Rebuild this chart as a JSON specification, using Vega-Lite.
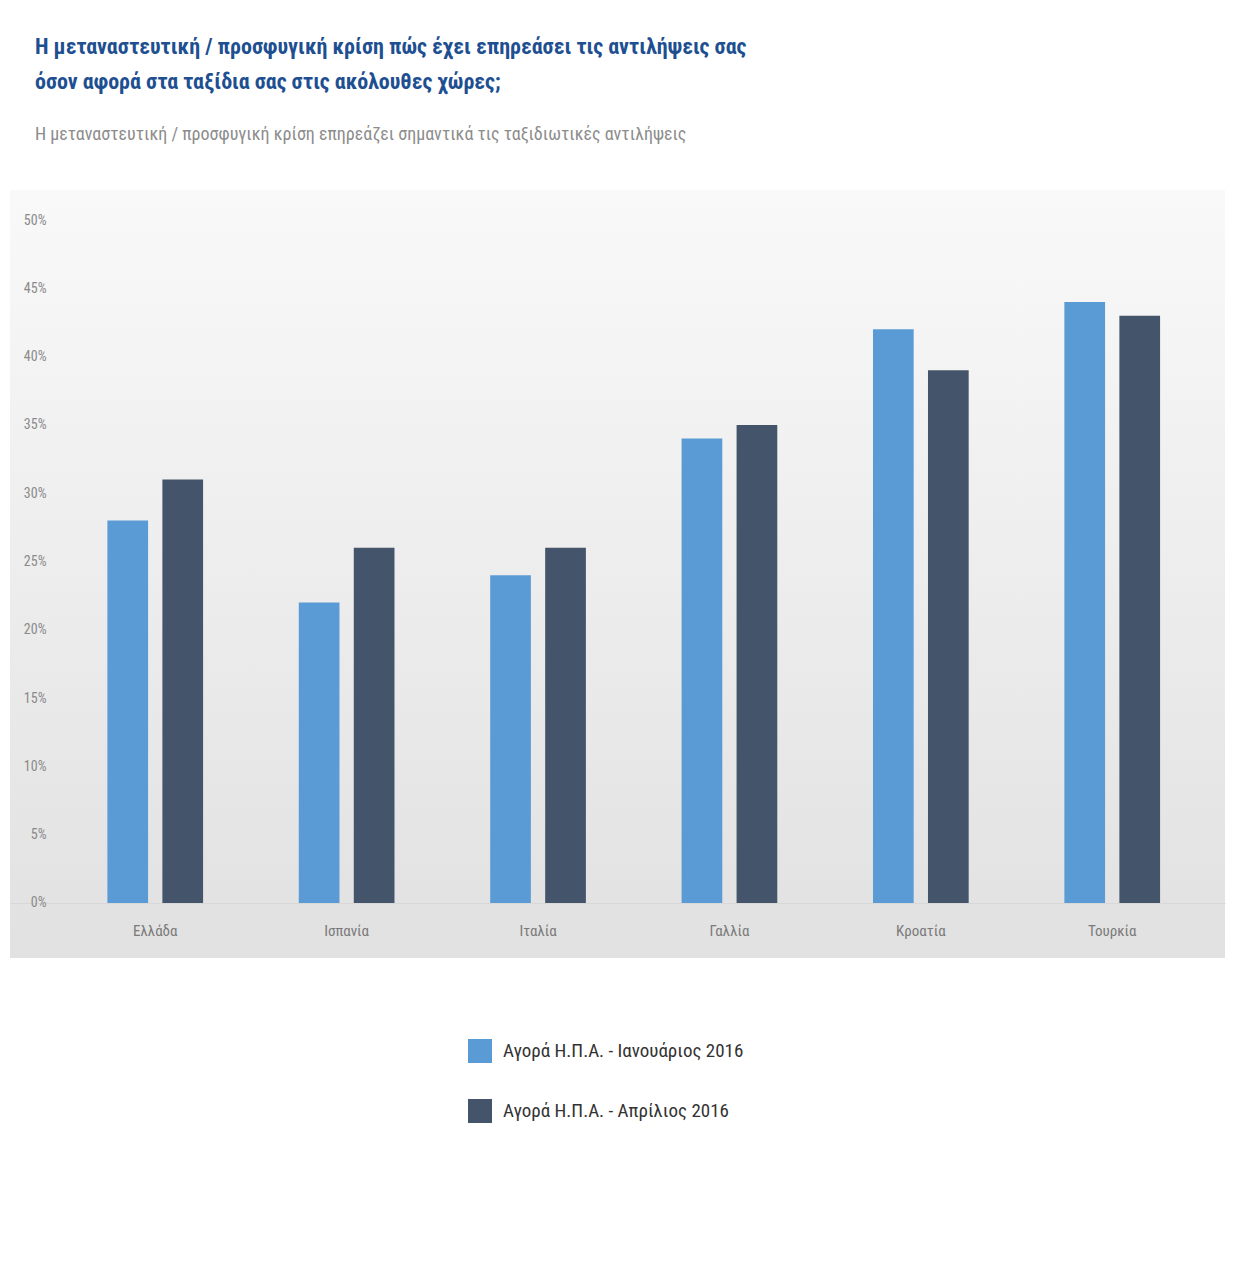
{
  "$schema": "https://vega.github.io/schema/vega-lite/v6.json",
  "width": 1215,
  "height": 768,
  "autosize": {"type": "none"},
  "padding": {"left": 10, "top": 190, "right": 10, "bottom": 306},
  "background": "#ffffff",
  "title": {
    "text": ["\u00a0Η μεταναστευτική / προσφυγική κρίση πώς έχει επηρεάσει τις αντιλήψεις σας", "όσον αφορά στα ταξίδια σας στις ακόλουθες χώρες;"],
    "subtitle": "Η μεταναστευτική / προσφυγική κρίση επηρεάζει σημαντικά τις ταξιδιωτικές αντιλήψεις",
    "anchor": "start",
    "frame": "group",
    "offset": 45,
    "dx": 25,
    "font": "Roboto Condensed, Roboto, sans-serif",
    "fontSize": 22,
    "fontWeight": "bold",
    "color": "#1d4f91",
    "lineHeight": 35,
    "subtitleFont": "Roboto Condensed, Roboto, sans-serif",
    "subtitleFontSize": 18,
    "subtitleFontWeight": "normal",
    "subtitleColor": "#8c8c8c",
    "subtitlePadding": 32
  },
  "data": {
    "values": [
      {"country": "Ελλάδα", "series": "Αγορά Η.Π.Α. - Ιανουάριος 2016", "value": 28},
      {"country": "Ελλάδα", "series": "Αγορά Η.Π.Α. - Απρίλιος 2016", "value": 31},
      {"country": "Ισπανία", "series": "Αγορά Η.Π.Α. - Ιανουάριος 2016", "value": 22},
      {"country": "Ισπανία", "series": "Αγορά Η.Π.Α. - Απρίλιος 2016", "value": 26},
      {"country": "Ιταλία", "series": "Αγορά Η.Π.Α. - Ιανουάριος 2016", "value": 24},
      {"country": "Ιταλία", "series": "Αγορά Η.Π.Α. - Απρίλιος 2016", "value": 26},
      {"country": "Γαλλία", "series": "Αγορά Η.Π.Α. - Ιανουάριος 2016", "value": 34},
      {"country": "Γαλλία", "series": "Αγορά Η.Π.Α. - Απρίλιος 2016", "value": 35},
      {"country": "Κροατία", "series": "Αγορά Η.Π.Α. - Ιανουάριος 2016", "value": 42},
      {"country": "Κροατία", "series": "Αγορά Η.Π.Α. - Απρίλιος 2016", "value": 39},
      {"country": "Τουρκία", "series": "Αγορά Η.Π.Α. - Ιανουάριος 2016", "value": 44},
      {"country": "Τουρκία", "series": "Αγορά Η.Π.Α. - Απρίλιος 2016", "value": 43}
    ]
  },
  "mark": {"type": "bar"},
  "encoding": {
    "x": {
      "field": "country",
      "type": "nominal",
      "sort": null,
      "scale": {"paddingInner": 0.5, "paddingOuter": 0.424, "align": 0.6},
      "axis": {
        "title": null,
        "orient": "bottom",
        "offset": -55,
        "ticks": false,
        "domain": true,
        "domainColor": "#d8d8d8",
        "domainWidth": 1,
        "labelPadding": 20,
        "labelAngle": 0,
        "labelFont": "Roboto Condensed, Roboto, sans-serif",
        "labelFontSize": 15,
        "labelColor": "#7a7a7a"
      }
    },
    "xOffset": {
      "field": "series",
      "type": "nominal",
      "sort": null,
      "scale": {"domain": ["Αγορά Η.Π.Α. - Ιανουάριος 2016", "Αγορά Η.Π.Α. - Απρίλιος 2016"], "paddingInner": 0.26, "paddingOuter": 0}
    },
    "y": {
      "field": "value",
      "type": "quantitative",
      "scale": {"domain": [-4.03, 52.2], "nice": false, "zero": false},
      "axis": {
        "title": null,
        "values": [0, 5, 10, 15, 20, 25, 30, 35, 40, 45, 50],
        "labelExpr": "datum.value + '%'",
        "grid": false,
        "ticks": false,
        "domain": false,
        "labelAlign": "right",
        "labelPadding": -36,
        "labelFont": "Roboto Condensed, Roboto, sans-serif",
        "labelFontSize": 14,
        "labelColor": "#8a8a8a"
      }
    },
    "y2": {"datum": 0},
    "color": {
      "field": "series",
      "type": "nominal",
      "scale": {
        "domain": ["Αγορά Η.Π.Α. - Ιανουάριος 2016", "Αγορά Η.Π.Α. - Απρίλιος 2016"],
        "range": ["#5b9bd5", "#44546a"]
      },
      "legend": {
        "title": null,
        "orient": "none",
        "legendX": 458,
        "legendY": 849,
        "direction": "vertical",
        "symbolType": "square",
        "symbolSize": 576,
        "symbolStrokeWidth": 0,
        "rowPadding": 36,
        "labelOffset": 11,
        "labelFont": "Roboto Condensed, Roboto, sans-serif",
        "labelFontSize": 19,
        "labelColor": "#333333",
        "labelLimit": 400
      }
    }
  },
  "config": {
    "view": {
      "stroke": null,
      "fill": {
        "gradient": "linear",
        "x1": 0, "y1": 0, "x2": 0, "y2": 1,
        "stops": [
          {"offset": 0, "color": "#f9f9f9"},
          {"offset": 1, "color": "#e1e1e1"}
        ]
      }
    }
  }
}
